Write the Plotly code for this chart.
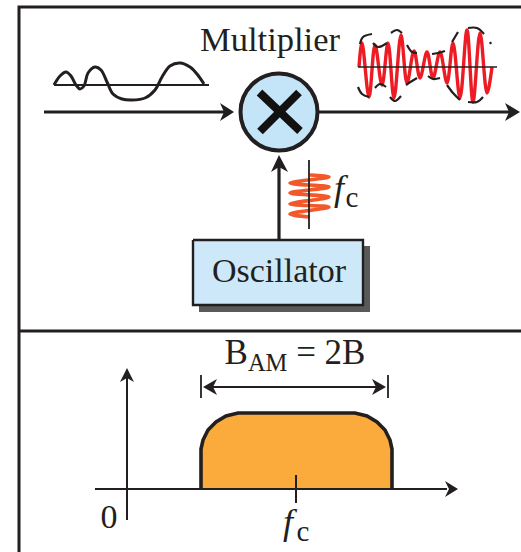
import plotly.graph_objects as go

INK = '#231f20'
BLUE = '#c4e5f8'
BOX_BLUE = '#cde9f9'
SHADOW = '#58595b'
RED = '#ed1c24'
COIL = '#f1592a'
BAND = '#fbab3c'
SERIF = 'Liberation Serif'

# frame
frame_x = [521, 19, 19]
frame_y = [7, 7, 552]
divider_x = [19, 521]
divider_y = [331, 331]

# baseband message, top left
message_base_x = [54, 209]
message_base_y = [85, 85]
message_x = [54, 60, 66, 71, 76, 80, 84, 88, 95, 101, 107, 113, 122, 132, 145, 155, 162, 170, 180, 190, 197, 204]
message_y = [85, 76, 72, 76, 85, 89, 86, 73, 67, 70, 82, 94, 99, 100, 98, 90, 77, 66, 63, 67, 74, 84]

# modulated signal, top right
am_base_x = [358, 497]
am_base_y = [67, 67]
am_x = [359, 362, 369, 375, 382, 388, 394, 401, 407, 414, 420, 427, 433, 440, 447, 453, 460, 467, 473, 480, 487, 492]
am_y = [67, 43, 97, 45, 85, 43, 98, 35, 83, 51, 78, 52, 78, 52, 83, 43, 98, 30, 102, 33, 93, 67]

envelope_segments = [
    ([360, 363, 372], [44, 37, 34]),
    ([373, 378, 387], [43, 47, 43]),
    ([391, 397, 402], [33, 30, 33]),
    ([407, 412, 417], [45, 52, 53]),
    ([432, 438, 445], [54, 53, 51]),
    ([452, 458, 458], [42, 32, 32]),
    ([468, 477, 484], [28, 28, 34]),
    ([490, 491], [42, 44]),
    ([358, 362, 369], [87, 94, 97]),
    ([375, 380, 386], [88, 84, 87]),
    ([390, 395, 401], [97, 101, 96]),
    ([406, 412, 417], [85, 81, 78]),
    ([428, 433, 440], [76, 79, 78]),
    ([447, 453, 460], [85, 93, 100]),
    ([468, 477, 483], [102, 102, 97]),
]

# signal path arrows
input_x = [44, 224]
input_y = [112, 112]
input_head_x = [234, 220, 224, 220]
input_head_y = [112, 103, 112, 121]
output_x = [318, 510]
output_y = [112, 112]
output_head_x = [520, 505, 509, 505]
output_head_y = [112, 103, 112, 121]
osc_x = [279, 279]
osc_y = [240, 165]
osc_head_x = [279, 271, 279, 288]
osc_head_y = [155, 172, 167, 172]

# multiplier
mult_x = [279]
mult_y = [112]
cross_a_x = [259.5, 300]
cross_a_y = [92.5, 131]
cross_b_x = [299, 260]
cross_b_y = [92.5, 131.5]

# carrier coil
coil_axis_x = [309, 309]
coil_axis_y = [160, 229]
coil_x = [310, 329, 290, 329, 290, 329, 290, 329, 290, 310]
coil_y = [175, 177, 183, 187, 193, 197, 204, 207, 214, 217]

# oscillator box
box_x = [193, 363, 363, 193, 193]
box_y = [240, 240, 305, 305, 240]
shadow_x = [199, 370, 370, 199, 199]
shadow_y = [246, 246, 312, 312, 246]

# spectrum
freq_axis_x = [95, 447]
freq_axis_y = [489, 489]
freq_head_x = [458, 445, 449, 445]
freq_head_y = [489, 481, 489, 497]
amp_axis_x = [127, 127]
amp_axis_y = [520, 376]
amp_head_x = [127, 120, 127, 134]
amp_head_y = [368, 382, 378, 382]
band_x = [201, 201, 203, 208, 216, 226, 238, 355, 367, 377, 385, 390, 392, 392]
band_y = [489, 449, 440, 430, 422, 416, 413, 413, 416, 422, 430, 440, 449, 489]
fc_tick_x = [296, 296]
fc_tick_y = [475, 503]

# bandwidth bracket
bracket_x = [208, 380]
bracket_y = [387, 387]
bracket_left_x = [201, 201]
bracket_right_x = [388, 388]
bracket_tick_y = [375, 398]
bracket_lhead_x = [203, 217, 213, 217]
bracket_lhead_y = [387, 379, 387, 395]
bracket_rhead_x = [386, 372, 376, 372]
bracket_rhead_y = [387, 379, 387, 395]

fig = go.Figure()


def add_line(x, y, color=INK, width=2.0, shape='linear'):
    fig.add_trace(go.Scatter(x=x, y=y, mode='lines', hoverinfo='skip', showlegend=False,
                             line=dict(color=color, width=width, shape=shape)))


def add_fill(x, y, fill, line_color=None, width=0, shape='linear'):
    fig.add_trace(go.Scatter(x=x, y=y, mode='lines', fill='toself', fillcolor=fill,
                             hoverinfo='skip', showlegend=False,
                             line=dict(color=line_color or fill, width=width, shape=shape)))


def add_label(x, y, text, size=34, italic=False):
    fig.add_trace(go.Scatter(x=[x], y=[y], mode='text', text=[text], hoverinfo='skip', showlegend=False,
                             textposition='middle center',
                             textfont=dict(family=SERIF, size=size, color=INK,
                                           style='italic' if italic else 'normal')))


add_line(frame_x, frame_y, width=3)
add_line(divider_x, divider_y, width=3)

add_line(message_base_x, message_base_y, width=2.2)
add_line(message_x, message_y, width=3, shape='spline')
add_line(input_x, input_y, width=3.2)
add_fill(input_head_x, input_head_y, INK)

add_line(am_x, am_y, color=RED, width=3.4, shape='spline')
add_line(am_base_x, am_base_y, width=1.6)
for seg_x, seg_y in envelope_segments:
    add_line(seg_x, seg_y, width=2.2, shape='spline')
add_line(output_x, output_y, width=3.2)
add_fill(output_head_x, output_head_y, INK)

fig.add_trace(go.Scatter(x=mult_x, y=mult_y, mode='markers', hoverinfo='skip', showlegend=False,
                         marker=dict(size=77, color=BLUE, line=dict(color=INK, width=4))))
add_line(cross_a_x, cross_a_y, color='#111111', width=8)
add_line(cross_b_x, cross_b_y, color='#111111', width=8)

add_fill(shadow_x, shadow_y, SHADOW)
add_fill(box_x, box_y, BOX_BLUE, line_color=INK, width=2.4)
add_line(osc_x, osc_y, width=3.2)
add_fill(osc_head_x, osc_head_y, INK)

add_line(coil_x, coil_y, color=COIL, width=3.6, shape='spline')
add_line(coil_axis_x, coil_axis_y, width=1.8)

add_fill(band_x, band_y, BAND, line_color=INK, width=3.6)
add_line(freq_axis_x, freq_axis_y, width=2)
add_fill(freq_head_x, freq_head_y, INK)
add_line(amp_axis_x, amp_axis_y, width=2)
add_fill(amp_head_x, amp_head_y, INK)
add_line(fc_tick_x, fc_tick_y, width=2)

add_line(bracket_x, bracket_y, width=2)
add_line(bracket_left_x, bracket_tick_y, width=1.8)
add_line(bracket_right_x, bracket_tick_y, width=1.8)
add_fill(bracket_lhead_x, bracket_lhead_y, INK)
add_fill(bracket_rhead_x, bracket_rhead_y, INK)

add_label(270, 42, 'Multiplier', size=34.5)
add_label(279, 273, 'Oscillator')
add_label(295, 355, 'B<sub>AM</sub> = 2B', size=35)
add_label(109, 519, '0')
add_label(339, 191, 'f', size=36, italic=True)
add_label(352, 200, 'c', size=29)
add_label(288, 525, 'f', size=36, italic=True)
add_label(303, 534, 'c', size=29)

fig.update_layout(
    width=521,
    height=552,
    margin=dict(l=0, r=0, t=0, b=0),
    paper_bgcolor='white',
    plot_bgcolor='white',
    showlegend=False,
    xaxis=dict(range=[0, 521], visible=False, fixedrange=True),
    yaxis=dict(range=[552, 0], visible=False, fixedrange=True),
)

fig.write_html("out.html", post_script="document.body.style.margin='0';document.body.style.overflow='hidden';",
               config=dict(displayModeBar=False))
